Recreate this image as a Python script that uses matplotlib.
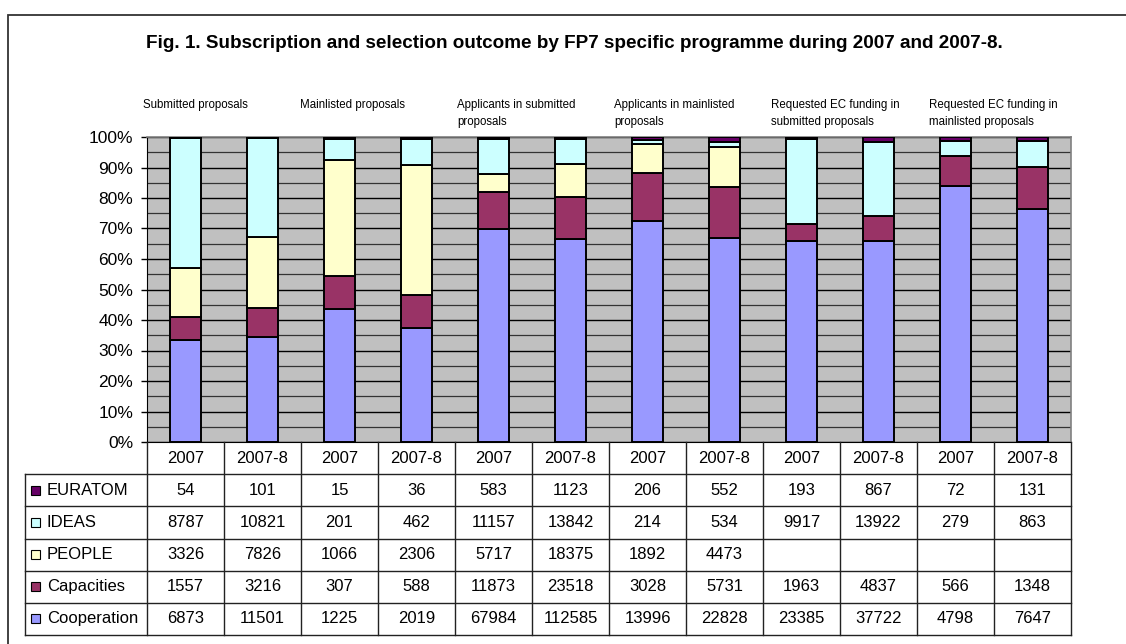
import matplotlib
matplotlib.use('Agg')
import matplotlib.pyplot as plt
import numpy as np
from matplotlib.patches import Rectangle

plt.rcParams['font.family'] = ['Liberation Sans', 'DejaVu Sans']

groups = ['Submitted proposals', 'Mainlisted proposals',
          'Applicants in submitted\nproposals', 'Applicants in mainlisted\nproposals',
          'Requested EC funding in\nsubmitted proposals', 'Requested EC funding in\nmainlisted proposals']
years = ['2007', '2007-8'] * 6

cooperation = [6873, 11501, 1225, 2019, 67984, 112585, 13996, 22828, 23385, 37722, 4798, 7647]
capacities = [1557, 3216, 307, 588, 11873, 23518, 3028, 5731, 1963, 4837, 566, 1348]
people = [3326, 7826, 1066, 2306, 5717, 18375, 1892, 4473, None, None, None, None]
ideas = [8787, 10821, 201, 462, 11157, 13842, 214, 534, 9917, 13922, 279, 863]
euratom = [54, 101, 15, 36, 583, 1123, 206, 552, 193, 867, 72, 131]

# bottom to top
series = [('Cooperation', cooperation, '#9999FF'),
          ('Capacities', capacities, '#993366'),
          ('PEOPLE', people, '#FFFFCC'),
          ('IDEAS', ideas, '#CCFFFF'),
          ('EURATOM', euratom, '#660066')]

W, H = 1126, 644
fig = plt.figure(figsize=(W / 100, H / 100), dpi=100)

# plot area
ax = fig.add_axes([147 / W, 1 - 442 / H, (1071 - 147) / W, (442 - 137) / H])
ax.set_facecolor('#C0C0C0')
x = np.arange(len(years))

arrs = [np.array([np.nan if v is None else v for v in s], dtype=float) for _, s, _ in series]
totals = np.nansum(arrs, axis=0)
bottom = np.zeros(len(years))
for (name, _, color), a in zip(series, arrs):
    pct = np.nan_to_num(a) / totals * 100
    m = pct > 0
    ax.bar(x[m], pct[m], 0.39, bottom=bottom[m], color=color,
           edgecolor='black', linewidth=1.4, zorder=3)
    bottom += pct

ax.set_xlim(-0.5, 11.5)
ax.set_ylim(0, 100)
ax.set_yticks(range(0, 101, 10))
ax.set_yticklabels([f'{v}%' for v in range(0, 101, 10)])
ax.set_yticks(range(5, 100, 10), minor=True)
ax.set_xticks([])
ax.yaxis.grid(True, which='major', color='black', linewidth=1.0, zorder=1)
ax.yaxis.grid(True, which='minor', color='#333333', linewidth=0.9, zorder=1)
ax.set_axisbelow(True)
ax.tick_params(axis='y', which='major', labelsize=12.5, length=4, pad=6, width=1)
ax.tick_params(axis='y', which='minor', length=0)
ax.spines['left'].set_color('black')
ax.spines['bottom'].set_color('black')
ax.spines['top'].set_color('#808080')
ax.spines['right'].set_color('#808080')
for s in ['top', 'right']:
    ax.spines[s].set_linewidth(1.2)

# group labels above the bars
tr = ax.get_xaxis_transform()
for k, g in enumerate(groups):
    ax.text(2 * k - 0.55 + 0.04 * k, (442 - 99) / (442 - 137), g, transform=tr,
            ha='left', va='top', fontsize=8.3, linespacing=1.6)

fig.text(574 / W, 1 - 43 / H,
         'Fig. 1. Subscription and selection outcome by FP7 specific programme during 2007 and 2007-8.',
         ha='center', va='center', fontsize=13.6, fontweight='bold')

# data table under the chart
xmin = -0.5 - 122 / 77
tax = fig.add_axes([25 / W, 1 - 635 / H, (1071 - 25) / W, (635 - 442) / H])
tax.set_xlim(xmin, 11.5)
tax.set_ylim(6, 0)
tax.axis('off')

lc = '#222222'
for r in range(1, 7):
    tax.plot([xmin, 11.5], [r, r], color=lc, lw=1, clip_on=False)
for k in range(13):
    tax.plot([k - 0.5, k - 0.5], [0, 6], color=lc, lw=1, clip_on=False)
tax.plot([xmin, xmin], [1, 6], color=lc, lw=1, clip_on=False)

for i, yr in enumerate(years):
    tax.text(i, 0.5, yr, ha='center', va='center', fontsize=12)

for r, ((name, s, color)) in enumerate(reversed(series)):
    yc = r + 1.5
    tax.add_patch(Rectangle((xmin + 6 / 77, yc - 0.14), 9 / 77, 0.28,
                            facecolor=color, edgecolor='black', lw=0.8))
    tax.text(xmin + 22 / 77, yc, name, ha='left', va='center', fontsize=12)
    for i, v in enumerate(s):
        if v is not None:
            tax.text(i, yc, str(v), ha='center', va='center', fontsize=12)

# outer frame
fig.add_artist(Rectangle((8 / W, -0.1), 2, 1 - 15 / H + 0.1, transform=fig.transFigure,
                         fill=False, edgecolor='#333333', lw=1.3))

fig.savefig('out.png', dpi=100)
